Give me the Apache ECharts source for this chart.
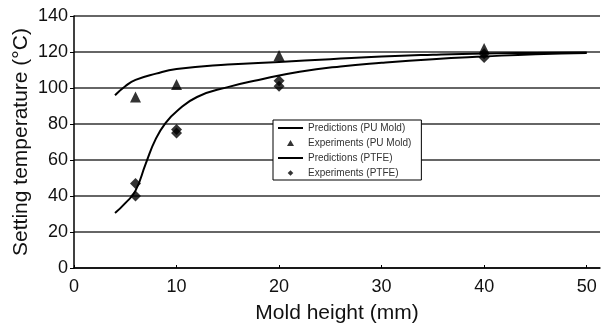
<!DOCTYPE html>
<html>
<head>
<meta charset="utf-8">
<script src="https://cdn.jsdelivr.net/npm/echarts@6/dist/echarts.min.js"></script>
<style>
  html, body { margin: 0; padding: 0; background: #fff; }
  #main { width: 602px; height: 325px; }
</style>
</head>
<body>
<div id="main"></div>
<script>
// mold height (mm) vs setting temperature (C)
var puPredX = [4, 5, 6, 8, 10, 15, 20, 25, 30, 35, 40, 45, 50];
var puPredY = [96, 101, 104.5, 108, 110.5, 113, 114.5, 116, 117.5, 118.5, 119.2, 119.5, 119.7];

var ptfePredX = [4, 5, 6, 7, 8, 9, 10, 12, 15, 18, 22, 26, 30, 35, 40, 45, 50];
var ptfePredY = [30.5, 36, 43, 58, 72, 81, 87, 95, 100.5, 104.5, 109, 112, 114, 116, 117.5, 118.8, 119.5];

var puExpX = [6, 10, 20, 40];
var puExpY = [95, 102, 118, 122];

var ptfeExpX = [6, 6, 10, 10, 20, 20, 40, 40];
var ptfeExpY = [47, 40, 77, 75, 104, 101, 119, 117];

function pairs(xs, ys) {
    var res = [];
    for (var i = 0; i < xs.length; i++) {
        res.push([xs[i], ys[i]]);
    }
    return res;
}

var myChart = echarts.init(document.getElementById('main'));
var fontFam = 'Liberation Sans, Arial, sans-serif';

// small legend markers, padded so they are not stretched across the icon box
var triIcon = 'path://M0,0 M25,8 M12.5,1 L16,7 L9,7 Z';
var diaIcon = 'path://M0,0 M25,8 M12.5,1.2 L15.3,4 L12.5,6.8 L9.7,4 Z';

var option = {
    backgroundColor: '#fff',
    animation: false,
    textStyle: { fontFamily: fontFam },
    grid: { left: 74, right: 2, top: 16, bottom: 57, outerBoundsMode: 'none' },
    legend: {
        orient: 'vertical',
        left: 273,
        top: 120,
        padding: [3, 10, 2, 4],
        itemGap: 5,
        itemWidth: 25,
        itemHeight: 8,
        backgroundColor: '#fff',
        borderColor: '#000',
        borderWidth: 1,
        textStyle: { fontSize: 10, color: '#333', fontFamily: fontFam },
        data: [
            { name: 'Predictions (PU Mold)' },
            { name: 'Experiments (PU Mold)', icon: triIcon },
            { name: 'Predictions (PTFE)' },
            { name: 'Experiments (PTFE)', icon: diaIcon }
        ]
    },
    xAxis: {
        type: 'value',
        min: 0,
        max: 51.3,
        interval: 10,
        name: 'Mold height (mm)',
        nameLocation: 'middle',
        nameGap: 35,
        nameMoveOverlap: false,
        nameTextStyle: { fontSize: 21, color: '#111' },
        axisLine: { lineStyle: { color: '#000', width: 1.5 } },
        axisTick: { show: true, inside: true, length: 3, lineStyle: { color: '#000' } },
        axisLabel: { fontSize: 18, color: '#111', showMaxLabel: false, margin: 10 },
        splitLine: { show: false }
    },
    yAxis: {
        type: 'value',
        min: 0,
        max: 140,
        interval: 20,
        name: 'Setting temperature (°C)',
        nameLocation: 'middle',
        nameGap: 42,
        nameMoveOverlap: false,
        nameTextStyle: { fontSize: 21, color: '#111' },
        axisLine: { show: true, lineStyle: { color: '#000', width: 1.5 } },
        axisTick: { show: true, length: 4, lineStyle: { color: '#000' } },
        axisLabel: { fontSize: 18, color: '#111', margin: 6 },
        splitLine: { show: true, lineStyle: { color: '#333', width: 1.5 } }
    },
    series: [
        {
            name: 'Predictions (PU Mold)',
            type: 'line',
            smooth: true,
            symbol: 'none',
            data: pairs(puPredX, puPredY),
            lineStyle: { color: '#000', width: 2 },
            itemStyle: { color: 'rgba(0,0,0,0)' }
        },
        {
            name: 'Experiments (PU Mold)',
            type: 'scatter',
            symbol: 'triangle',
            symbolSize: 11,
            data: pairs(puExpX, puExpY),
            itemStyle: { color: '#000' }
        },
        {
            name: 'Predictions (PTFE)',
            type: 'line',
            smooth: true,
            symbol: 'none',
            data: pairs(ptfePredX, ptfePredY),
            lineStyle: { color: '#000', width: 2 },
            itemStyle: { color: 'rgba(0,0,0,0)' }
        },
        {
            name: 'Experiments (PTFE)',
            type: 'scatter',
            symbol: 'diamond',
            symbolSize: 11,
            data: pairs(ptfeExpX, ptfeExpY),
            itemStyle: { color: '#000' }
        }
    ]
};

myChart.setOption(option);
</script>
</body>
</html>
